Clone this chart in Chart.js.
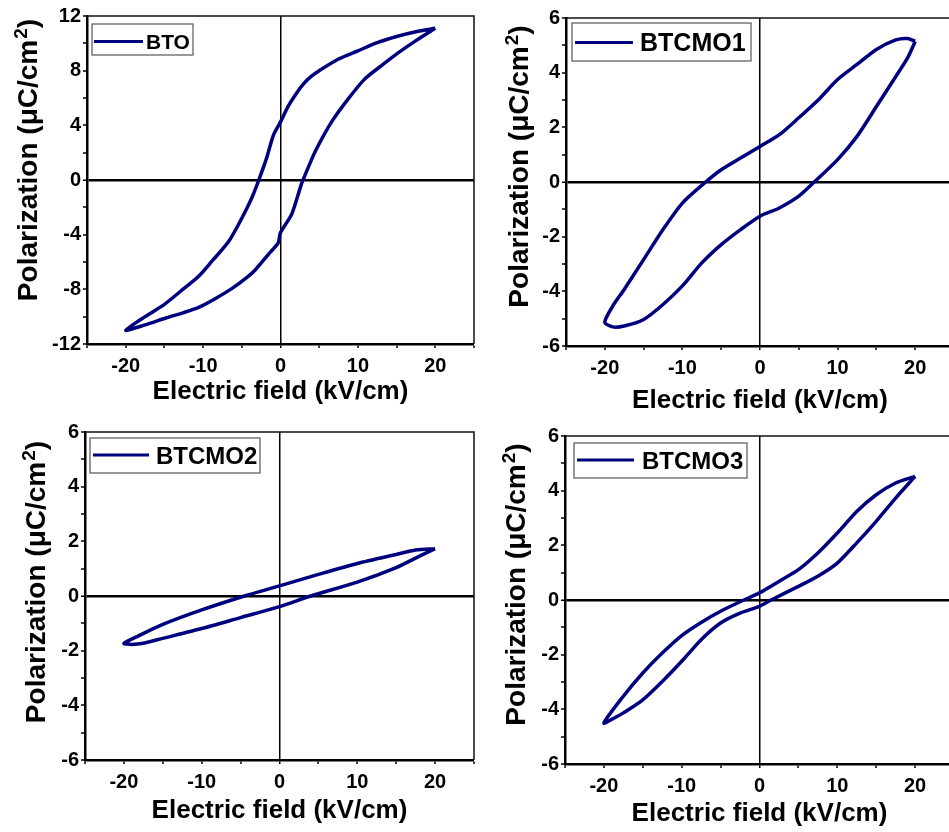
<!DOCTYPE html>
<html lang="en">
<head>
<meta charset="UTF-8">
<title>P-E hysteresis loops</title>
<script src="https://cdn.jsdelivr.net/npm/chart.js"></script>
<style>
  html, body { margin: 0; padding: 0; background: #fff; overflow: hidden; }
  body { width: 949px; height: 832px; position: relative; }
  canvas { position: absolute; }
</style>
</head>
<body>
<canvas id="c1" width="480" height="416" style="left:0;top:0"></canvas>
<canvas id="c2" width="480" height="420" style="left:480px;top:0"></canvas>
<canvas id="c3" width="480" height="416" style="left:0;top:416px"></canvas>
<canvas id="c4" width="480" height="416" style="left:480px;top:416px"></canvas>
<script>
// values: E in kV/cm, P in uC/cm2
// upper branch runs from +Emax down to -Emax, lower branch back up
var btoUpE = [20, 17.5, 15, 12.5, 10, 7.5, 5, 4, 3, 2, 1, 0, -0.9, -1.8, -2.8, -3.7, -5, -6.7, -8.8, -10.5, -12.5, -15, -17.5, -20];
var btoUpP = [11.1, 10.85, 10.5, 10.05, 9.45, 8.85, 8.0, 7.6, 7.05, 6.3, 5.4, 4.25, 3.3, 1.6, 0, -1.3, -2.8, -4.5, -5.9, -7.0, -7.95, -9.1, -10.0, -11.0];
var btoLoE = [-20, -17.5, -14.8, -12.5, -10.5, -8.5, -6.3, -4.5, -3.3, -1.5, -0.3, 0, 1.45, 2.7, 3.2, 4.5, 6.6, 8.7, 10.9, 13, 15.2, 17.5, 20];
var btoLoP = [-11.0, -10.6, -10.1, -9.7, -9.3, -8.7, -7.95, -7.2, -6.6, -5.4, -4.6, -3.85, -2.5, -0.3, 0.4, 2.1, 4.25, 5.9, 7.4, 8.35, 9.3, 10.2, 11.1];

var m1UpE = [20, 19, 17.5, 15, 12.5, 10, 7.5, 5, 2.5, 0, -2.5, -5, -7, -10, -12.5, -15, -17.5, -19, -20];
var m1UpP = [5.15, 5.25, 5.2, 4.85, 4.3, 3.75, 3.0, 2.35, 1.73, 1.3, 0.88, 0.45, 0, -0.77, -1.74, -2.84, -3.93, -4.55, -5.13];
var m1LoE = [-20, -19, -17.5, -15, -12.5, -10, -7.5, -5, -2.5, 0, 2.5, 5, 7, 10, 12.5, 15, 17.5, 19, 20];
var m1LoP = [-5.13, -5.3, -5.27, -5.03, -4.48, -3.8, -2.96, -2.29, -1.74, -1.25, -0.95, -0.52, 0, 0.82, 1.67, 2.76, 3.86, 4.53, 5.14];

var m2UpE = [20, 17.5, 15, 10, 5, 0, -4.5, -10, -15, -18, -20];
var m2UpP = [1.73, 1.68, 1.52, 1.19, 0.79, 0.37, 0, -0.51, -1.04, -1.44, -1.73];
var m2LoE = [-20, -19, -17.5, -15, -10, -5, 0, 4, 10, 15, 18, 20];
var m2LoP = [-1.73, -1.77, -1.73, -1.55, -1.19, -0.79, -0.39, 0, 0.51, 1.04, 1.46, 1.73];

var m3UpE = [20, 17.5, 15, 12.5, 10, 7.5, 5, 2.5, 0, -2, -5, -7.5, -10, -12.5, -15, -17.5, -20];
var m3UpP = [4.52, 4.28, 3.85, 3.24, 2.45, 1.72, 1.11, 0.68, 0.26, 0, -0.41, -0.82, -1.3, -1.94, -2.67, -3.52, -4.5];
var m3LoE = [-20, -18.5, -17.5, -15, -12.5, -10, -7.5, -5, -2.5, 0, 1.5, 5, 7.5, 10, 12.5, 15, 17.5, 20];
var m3LoP = [-4.5, -4.29, -4.13, -3.65, -2.98, -2.24, -1.45, -0.84, -0.48, -0.23, 0, 0.5, 0.87, 1.35, 2.09, 2.88, 3.73, 4.52];

var sampleNames = ['BTO', 'BTCMO1', 'BTCMO2', 'BTCMO3'];
var xTitle = 'Electric field (kV/cm)';
var yTitleText = ['Polarization (\u03bcC/cm', '2', ')'];

var FONT = '"Liberation Sans", Arial, Helvetica, sans-serif';
var NAVY = '#00007f';

function buildLoop(upE, upP, loE, loP) {
    var pts = [];
    for (var i = 0; i < upE.length; i++) pts.push({ x: upE[i], y: upP[i] });
    for (var j = 1; j < loE.length; j++) pts.push({ x: loE[j], y: loP[j] });
    return pts;
}

// top and right frame lines
const frame = {
    id: 'frame',
    afterDraw(chart) {
        const { ctx, chartArea: a } = chart;
        ctx.save();
        ctx.strokeStyle = '#111';
        ctx.lineWidth = 1.5;
        ctx.beginPath();
        ctx.moveTo(a.left, a.top);
        ctx.lineTo(a.right, a.top);
        ctx.lineTo(a.right, a.bottom);
        ctx.stroke();
        ctx.restore();
    }
};

// legend drawn inside a bordered box, like the origin plot
const boxLegend = {
    id: 'boxLegend',
    afterDraw(chart, args, o) {
        const { ctx, chartArea: a } = chart;
        const ds = chart.data.datasets[0];
        const x0 = a.left + o.dx, y0 = a.top + o.dy;
        ctx.save();
        ctx.fillStyle = '#fff';
        ctx.fillRect(x0, y0, o.w, o.h);
        ctx.strokeStyle = '#555';
        ctx.lineWidth = 1.2;
        ctx.strokeRect(x0, y0, o.w, o.h);
        ctx.strokeStyle = ds.borderColor;
        ctx.lineWidth = 3;
        ctx.beginPath();
        ctx.moveTo(a.left + o.lx1, a.top + o.ly);
        ctx.lineTo(a.left + o.lx2, a.top + o.ly);
        ctx.stroke();
        ctx.fillStyle = '#000';
        ctx.font = 'bold ' + o.size + 'px ' + FONT;
        ctx.textBaseline = 'alphabetic';
        ctx.fillText(ds.label, a.left + o.tx, a.top + o.ly + 0.358 * o.size);
        ctx.restore();
    }
};

// y title with a raised 2
const yTitle = {
    id: 'yTitle',
    afterDraw(chart, args, o) {
        const { ctx, chartArea: a } = chart;
        const f1 = 'bold 28px ' + FONT, f2 = 'bold 19px ' + FONT;
        ctx.save();
        ctx.translate(a.left + o.dx, (a.top + a.bottom) / 2 + o.dy);
        ctx.rotate(-Math.PI / 2);
        ctx.fillStyle = '#000';
        ctx.textBaseline = 'alphabetic';
        ctx.font = f1;
        const w1 = ctx.measureText(yTitleText[0]).width;
        const w3 = ctx.measureText(yTitleText[2]).width;
        ctx.font = f2;
        const w2 = ctx.measureText(yTitleText[1]).width;
        let x = -(w1 + w2 + w3) / 2;
        ctx.font = f1; ctx.fillText(yTitleText[0], x, 0); x += w1;
        ctx.font = f2; ctx.fillText(yTitleText[1], x + 1, -10); x += w2 + 1;
        ctx.font = f1; ctx.fillText(yTitleText[2], x, 0);
        ctx.restore();
    }
};

function makeChart(id, name, loop, p) {
    const tickFont = { family: FONT, weight: 'bold', size: 20 };
    new Chart(document.getElementById(id), {
        type: 'scatter',
        data: {
            datasets: [{
                label: name,
                data: loop,
                showLine: true,
                borderColor: NAVY,
                borderWidth: 3.5,
                pointRadius: 0,
                tension: 0.25,
                fill: false
            }]
        },
        options: {
            responsive: false,
            animation: false,
            events: [],
            layout: { padding: { left: 0, top: p.pt, right: p.pr, bottom: p.pb } },
            plugins: {
                legend: { display: false },
                tooltip: { enabled: false },
                boxLegend: p.leg,
                yTitle: { dx: p.tdx, dy: p.tdy }
            },
            scales: {
                x: {
                    type: 'linear', min: -25, max: 25,
                    afterFit: s => { s.height = p.xh; },
                    ticks: {
                        stepSize: 5, autoSkip: false, maxRotation: 0, padding: 6,
                        color: '#000', font: tickFont,
                        callback: v => (v % 10 === 0 && Math.abs(v) <= 20) ? String(v) : ''
                    },
                    grid: {
                        color: c => (c.tick && c.tick.value === 0) ? '#000' : 'rgba(0,0,0,0)',
                        lineWidth: c => (c.tick && c.tick.value === 0) ? 1.5 : 0,
                        tickColor: '#000', tickLength: 4, tickWidth: 1.5
                    },
                    border: { color: '#000', width: 2.5 },
                    title: {
                        display: true, text: xTitle, color: '#000',
                        font: { family: FONT, weight: 'bold', size: 26, lineHeight: 1.2 },
                        padding: { top: 0, bottom: 0 }
                    }
                },
                y: {
                    type: 'linear', min: -p.ymax, max: p.ymax,
                    afterFit: s => { s.width = p.yw; },
                    ticks: {
                        stepSize: p.ystep, autoSkip: false, padding: 2,
                        color: '#000', font: tickFont,
                        callback: v => (v % p.ylab === 0) ? String(v) : ''
                    },
                    grid: {
                        color: c => (c.tick && c.tick.value === 0) ? '#000' : 'rgba(0,0,0,0)',
                        lineWidth: c => (c.tick && c.tick.value === 0) ? 2.5 : 0,
                        tickColor: '#000', tickLength: 4, tickWidth: 1.5
                    },
                    border: { color: '#000', width: 2.5 }
                }
            }
        },
        plugins: [frame, boxLegend, yTitle]
    });
}

makeChart('c1', sampleNames[0], buildLoop(btoUpE, btoUpP, btoLoE, btoLoP), {
    pt: 16, pr: 5, pb: 9, xh: 63, yw: 87, ymax: 12, ystep: 2, ylab: 4, tdx: -50, tdy: -19.5,
    leg: { dx: 5, dy: 8, w: 101, h: 31, lx1: 7, lx2: 56, ly: 25.5, tx: 59, size: 21 }
});
makeChart('c2', sampleNames[1], buildLoop(m1UpE, m1UpP, m1LoE, m1LoP), {
    pt: 18, pr: 4, pb: 4, xh: 70, yw: 86, ymax: 6, ystep: 1, ylab: 2, tdx: -38, tdy: -15,
    leg: { dx: 6, dy: 5, w: 179, h: 38, lx1: 9, lx2: 67, ly: 24.5, tx: 74, size: 25 }
});
makeChart('c3', sampleNames[2], buildLoop(m2UpE, m2UpP, m2LoE, m2LoP), {
    pt: 16, pr: 5, pb: 6, xh: 66, yw: 85, ymax: 6, ystep: 1, ylab: 2, tdx: -40, tdy: -13.5,
    leg: { dx: 5, dy: 6, w: 170, h: 35, lx1: 8, lx2: 64, ly: 23, tx: 71, size: 24 }
});
makeChart('c4', sampleNames[3], buildLoop(m3UpE, m3UpP, m3LoE, m3LoP), {
    pt: 20, pr: 5, pb: 3, xh: 65, yw: 85, ymax: 6, ystep: 1, ylab: 2, tdx: -40, tdy: -15,
    leg: { dx: 9, dy: 7, w: 173, h: 35, lx1: 12, lx2: 69, ly: 24, tx: 77, size: 24 }
});
</script>
</body>
</html>
